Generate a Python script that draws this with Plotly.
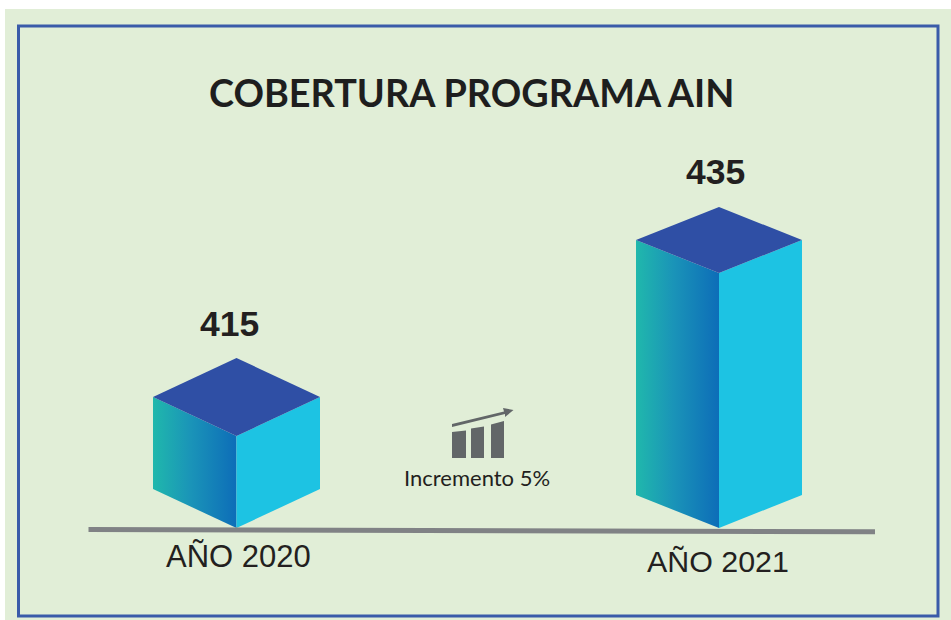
import plotly.graph_objects as go

# Data
years = ["AÑO 2020", "AÑO 2021"]
values = [415, 435]
value_labels = ["415", "435"]
title_text = "COBERTURA PROGRAMA AIN"
icon_text = "Incremento 5%"

# Scale (value axis) and layout geometry
W, H = 951, 620
PX_PER_UNIT = 8.15
Y_AT_VALUE_415 = 436
BASE_VALUE = 403.71


def v2px(v):
    return Y_AT_VALUE_415 - (v - 415) * PX_PER_UNIT


def px2v(p):
    return 415 + (Y_AT_VALUE_415 - p) / PX_PER_UNIT


centers = [236.5, 719]
half_w = [83.5, 83]
depth_px = [39, 33]
label_y = [556, 561]
label_x = [238.5, 718]
label_size = [31, 30.4]
value_y = [323.5, 172]
value_x = [229, 715]

C_BG = "#E1EED7"
C_FRAME = "#3A5BA9"
C_TOP = "#2F4FA5"
C_RIGHT = "#1DC3E3"
C_LINE = "#808285"
C_ICON = "#626668"
C_TEXT = "#231F20"
LEFT_SCALE = [[0, "#20B8AC"], [0.45, "#1A94B8"], [1, "#0D6DB8"]]

fig = go.Figure()


def poly(xs, ys_px, color=None, gradient=None, name=""):
    kw = dict(fillgradient=dict(type="horizontal", colorscale=gradient)) if gradient else dict(fillcolor=color)
    fig.add_trace(go.Scatter(
        x=xs + xs[:1],
        y=[px2v(p) for p in ys_px + ys_px[:1]],
        mode="lines", fill="toself", line=dict(width=0),
        hoverinfo="skip", showlegend=False, name=name, **kw))


for yr, v, c, hw, d in zip(years, values, centers, half_w, depth_px):
    top = v2px(v)
    base = v2px(BASE_VALUE)
    poly([c - hw, c, c, c - hw], [top - d, top, base, base - d], gradient=LEFT_SCALE, name=yr)
    poly([c, c + hw, c + hw, c], [top, top - d, base - d, base], color=C_RIGHT, name=yr)
    poly([c - hw, c, c + hw, c], [top - d, top, top - d, top - 2 * d], color=C_TOP, name=yr)

ann = [dict(x=471, y=px2v(92.5), text=f"<b>{title_text}</b>", font=dict(family="Lato", size=37.8, color="#1E1E1E"))]
for lab, x, y in zip(value_labels, value_x, value_y):
    ann.append(dict(x=x, y=px2v(y), text=f"<b>{lab}</b>", font=dict(family="Liberation Sans", size=35.5, color=C_TEXT)))
for lab, x, y, s in zip(years, label_x, label_y, label_size):
    ann.append(dict(x=x, y=px2v(y), text=lab, font=dict(family="Liberation Sans", size=s, color=C_TEXT)))
ann.append(dict(x=477, y=px2v(477.5), text=icon_text, font=dict(family="Lato", size=22, color=C_TEXT)))
for a in ann:
    a.update(xref="x", yref="y", showarrow=False, xanchor="center", yanchor="middle")

shapes = [
    dict(type="rect", xref="x", yref="paper", x0=5, x1=W, y0=0, y1=1 - 9 / H, fillcolor=C_BG, line_width=0, layer="below"),
    dict(type="rect", xref="x", yref="y", x0=18.5, x1=938, y0=px2v(26), y1=px2v(616), line=dict(color=C_FRAME, width=3), layer="below"),
    dict(type="line", xref="x", yref="y", x0=88.5, x1=875, y0=px2v(529.5), y1=px2v(531.7), line=dict(color=C_LINE, width=5), layer="above"),
]


def path(pts):
    return "M " + " L ".join(f"{x},{px2v(y):.3f}" for x, y in pts) + " Z"


icon_polys = [
    [(452, 458), (452, 432), (466, 430.5), (466, 458)],
    [(471, 458), (471, 428.5), (484, 426.5), (484, 458)],
    [(491, 458), (491, 424.5), (504, 421), (504, 458)],
    [(452, 424), (504, 411.5), (503, 408), (513.5, 410), (505, 417), (505, 414), (452, 427)],
]
for p in icon_polys:
    shapes.append(dict(type="path", xref="x", yref="y", path=path(p), fillcolor=C_ICON, line_width=0, layer="above"))

fig.update_layout(
    width=W, height=H, margin=dict(l=0, r=0, t=0, b=0),
    paper_bgcolor="white", plot_bgcolor="rgba(0,0,0,0)", showlegend=False,
    xaxis=dict(range=[0, W], visible=False, fixedrange=True),
    yaxis=dict(range=[px2v(H), px2v(0)], visible=False, fixedrange=True),
    annotations=ann, shapes=shapes,
)
fig.write_html("out.html", config={"displayModeBar": False}, post_script="document.body.style.margin='0';")
